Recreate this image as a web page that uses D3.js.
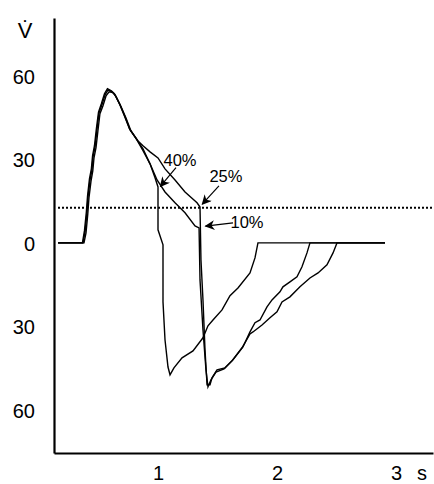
<!DOCTYPE html>
<html lang="en">
<head>
  <meta charset="UTF-8">
  <title>Flow - cycling criteria</title>
  <script src="https://d3js.org/d3.v7.min.js"></script>
  <style>
    body { margin: 0; background: #fff; }
    text { font-family: "Liberation Sans", Arial, sans-serif; fill: #000; }
  </style>
</head>
<body>
  <div id="chart"></div>
  <script>
    // time (s) and flow values, one pair per curve
    const t40 = [0.160, 0.370, 0.387, 0.403, 0.412, 0.429, 0.445, 0.454, 0.471, 0.487, 0.504, 0.529, 0.555, 0.580, 0.613, 0.639, 0.681, 0.723, 0.765, 0.824,
                 0.874, 0.933, 0.975, 1.000, 1.000, 1.042, 1.042, 1.059, 1.084, 1.101, 1.134, 1.202, 1.294, 1.378, 1.420, 1.462, 1.538, 1.605, 1.672, 1.773, 1.815, 1.840, 2.908];
    const v40 = [0, 0, 4.0, 10.8, 16.5, 22.6, 26.2, 30.9, 34.5, 40.6, 46.7, 49.6, 53.2, 55.0, 54.3, 53.2, 49.6, 45.3, 40.6, 37.0,
                 33.8, 28.4, 23.4, 20.1, 4.7, -0.7, -21.2, -34.9, -44.6, -47.4, -44.9, -41.3, -38.8, -34.1, -29.8, -27.7, -24.1, -19.0, -16.2, -10.8, -5.4, 0, 0];

    const t25 = [0.160, 0.378, 0.395, 0.410, 0.420, 0.437, 0.452, 0.462, 0.479, 0.495, 0.512, 0.537, 0.563, 0.589, 0.620, 0.647, 0.689, 0.731, 0.773, 0.832,
                 0.874, 0.933, 1.000, 1.059, 1.143, 1.227, 1.328, 1.353, 1.361, 1.378, 1.395, 1.412, 1.437, 1.454, 1.496, 1.563, 1.630, 1.714, 1.773,
                 1.815, 1.857, 1.916, 1.958, 2.025, 2.050, 2.109, 2.168, 2.210, 2.252, 2.277, 2.908];
    const v25 = [0, 0, 3.6, 10.4, 16.2, 22.2, 25.9, 30.5, 34.2, 40.2, 46.4, 49.2, 52.8, 54.3, 54.0, 52.6, 49.0, 44.9, 40.2, 36.6,
                 34.9, 32.7, 30.5, 26.6, 22.6, 18.3, 14.4, 12.9, -6.1, -20.5, -38.4, -51.0, -51.0, -48.5, -45.6, -44.9, -42.0, -37.4, -32.0,
                 -28.7, -27.7, -23.0, -20.5, -17.6, -15.8, -14.0, -12.2, -8.6, -3.6, 0, 0];

    const t10 = [0.160, 0.365, 0.382, 0.398, 0.408, 0.424, 0.440, 0.450, 0.466, 0.482, 0.500, 0.524, 0.550, 0.575, 0.608, 0.634, 0.676, 0.718, 0.760, 0.818,
                 0.874, 0.933, 0.992, 1.059, 1.143, 1.227, 1.311, 1.345, 1.353, 1.378, 1.403, 1.420, 1.445, 1.487, 1.555, 1.622, 1.706, 1.773,
                 1.798, 1.874, 1.941, 2.000, 2.042, 2.109, 2.193, 2.277, 2.345, 2.420, 2.471, 2.504, 2.908];
    const v10 = [0, 0, 4.4, 11.2, 16.9, 23.0, 26.6, 31.3, 34.9, 41.0, 47.0, 50.0, 53.6, 55.4, 54.6, 53.6, 50.0, 45.6, 41.0, 37.4,
                 33.1, 28.4, 22.6, 18.3, 14.4, 10.8, 6.1, 5.4, -13.3, -31.3, -45.6, -51.7, -49.2, -46.4, -45.3, -42.4, -37.7, -32.7,
                 -32.0, -29.5, -26.9, -24.8, -21.2, -19.4, -15.8, -12.6, -10.8, -7.9, -3.6, 0, 0];

    const threshold = 12.6;
    const yTicks = [60, 30, 0, -30, -60];
    const xTicks = [1, 2, 3];

    // label text, label centre, arrow tail and arrow tip (in data units)
    const notes = [
      { text: "40%", t: 1.185, v: 29.6, t0: 1.151, v0: 27.0, t1: 1.020, v1: 20.3 },
      { text: "25%", t: 1.571, v: 24.1, t0: 1.512, v0: 20.5, t1: 1.372, v1: 13.9 },
      { text: "10%", t: 1.748, v: 7.5,  t0: 1.630, v0: 7.2,  t1: 1.399, v1: 6.0 }
    ];

    const width = 434, height = 484;

    const svg = d3.select("#chart").append("svg")
      .attr("width", width)
      .attr("height", height);

    const x = d3.scaleLinear().domain([0.126, 3.311]).range([54, 433]);
    const y = d3.scaleLinear().domain([-75.5, 80.8]).range([453, 18]);

    svg.append("defs").append("marker")
      .attr("id", "head")
      .attr("viewBox", "0 0 10 10")
      .attr("refX", 9).attr("refY", 5)
      .attr("markerWidth", 10).attr("markerHeight", 10)
      .attr("markerUnits", "userSpaceOnUse")
      .attr("orient", "auto")
      .append("path")
      .attr("d", "M0,0L10,5L0,10L3,5Z")
      .attr("fill", "#000");

    // dotted threshold line
    svg.append("line")
      .attr("x1", 58).attr("x2", width)
      .attr("y1", y(threshold)).attr("y2", y(threshold))
      .attr("stroke", "#000")
      .attr("stroke-width", 2)
      .attr("stroke-dasharray", "2,2");

    const line = d3.line()
      .x(d => x(d[0]))
      .y(d => y(d[1]));

    [[t40, v40], [t25, v25], [t10, v10]].forEach(([ts, vs]) => {
      svg.append("path")
        .datum(ts.map((t, i) => [t, vs[i]]))
        .attr("d", line)
        .attr("fill", "none")
        .attr("stroke", "#000")
        .attr("stroke-width", 1.4);
    });

    // axes
    const yAxis = svg.append("g")
      .attr("transform", `translate(${x(0.126)},0)`)
      .call(d3.axisLeft(y).tickValues(yTicks).tickFormat(d => Math.abs(d)).tickSize(0).tickPadding(19));
    yAxis.select(".domain").attr("stroke-width", 2.2);
    yAxis.selectAll("text").attr("font-size", 20).attr("dy", "0.36em")
      .style("font-family", "'Liberation Sans', Arial, sans-serif");

    const xAxis = svg.append("g")
      .attr("transform", `translate(0,${y(-75.5)})`)
      .call(d3.axisBottom(x).tickValues(xTicks).tickFormat(d3.format("d")).tickSize(0).tickPadding(13));
    xAxis.select(".domain").attr("stroke-width", 2.2);
    xAxis.selectAll("text").attr("font-size", 20)
      .style("font-family", "'Liberation Sans', Arial, sans-serif");

    svg.append("text")
      .attr("x", 422).attr("y", 480)
      .attr("text-anchor", "middle")
      .attr("font-size", 20)
      .text("s");

    svg.append("text")
      .attr("x", 25).attr("y", 38)
      .attr("text-anchor", "middle")
      .attr("font-size", 22)
      .text("V\u0307");

    // annotations
    notes.forEach(n => {
      svg.append("line")
        .attr("x1", x(n.t0)).attr("y1", y(n.v0))
        .attr("x2", x(n.t1)).attr("y2", y(n.v1))
        .attr("stroke", "#000")
        .attr("stroke-width", 1.2)
        .attr("marker-end", "url(#head)");
      svg.append("text")
        .attr("x", x(n.t)).attr("y", y(n.v))
        .attr("dy", "0.36em")
        .attr("text-anchor", "middle")
        .attr("font-size", 16.5)
        .text(n.text);
    });
  </script>
</body>
</html>
